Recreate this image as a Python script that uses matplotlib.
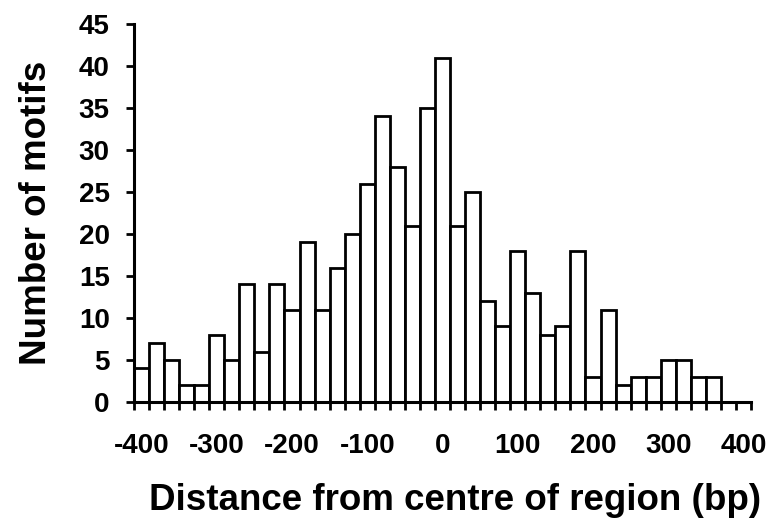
import matplotlib
matplotlib.use("Agg")
import matplotlib.pyplot as plt
import numpy as np

# Data: bin centres (bp) and counts
positions = list(range(-400, 401, 20))
counts = [4, 7, 5, 2, 2, 8, 5, 14, 6, 14, 11, 19, 11, 16, 20, 26, 34, 28, 21, 35, 41,
          21, 25, 12, 9, 18, 13, 8, 9, 18, 3, 11, 2, 3, 3, 5, 5, 3, 3, 0, 0]
x_tick_labels = [-400, -300, -200, -100, 0, 100, 200, 300, 400]
y_ticks = [0, 5, 10, 15, 20, 25, 30, 35, 40, 45]

plt.rcParams['font.family'] = ['Liberation Sans', 'DejaVu Sans']
plt.rcParams['font.weight'] = 'bold'

fig = plt.figure(figsize=(7.7, 5.25), dpi=100)
ax = fig.add_axes([134/770, 1-402/525, (751-134)/770, (402-24)/525])

ax.bar(positions, counts, width=20, color='white', edgecolor='black',
       linewidth=2.0, align='center', zorder=2)

ax.set_xlim(-410, 410)
ax.set_ylim(0, 45)

ax.set_xticks(x_tick_labels)
ax.set_xticklabels([str(v) for v in x_tick_labels], fontsize=20, fontweight='bold')
ax.tick_params(axis='x', which='major', length=0, pad=22)
ax.set_xticks(np.arange(-410, 411, 20), minor=True)
ax.tick_params(axis='x', which='minor', length=5.5, width=2, direction='out')

ax.set_yticks(y_ticks)
ax.set_yticklabels([str(v) for v in y_ticks], fontsize=20, fontweight='bold')
ax.tick_params(axis='y', which='major', length=5.5, width=2, direction='out', pad=12)

for s in ['top', 'right']:
    ax.spines[s].set_visible(False)
for s in ['left', 'bottom']:
    ax.spines[s].set_linewidth(2.2)
    ax.spines[s].set_zorder(3)

ax.set_xlabel('Distance from centre of region (bp)', fontsize=26.5, fontweight='bold')
ax.set_ylabel('Number of motifs', fontsize=26.5, fontweight='bold', labelpad=18)
ax.xaxis.set_label_coords((455-134)/617, -(510-402)/378, transform=ax.transAxes)
ax.xaxis.label.set_va('baseline')

fig.savefig('out.png', dpi=100)
